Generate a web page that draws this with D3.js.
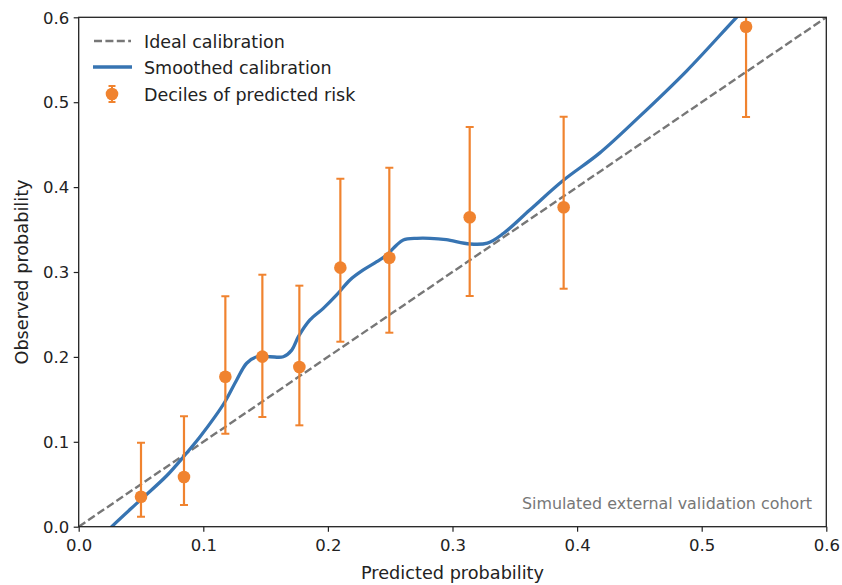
<!DOCTYPE html>
<html><head><meta charset="utf-8">
<script src="https://cdn.jsdelivr.net/npm/d3@7"></script>
<style>body{margin:0;background:#fff}svg{display:block}text{font-family:"DejaVu Sans",sans-serif}</style>
</head><body><svg id="c" width="842" height="585"></svg>
<script>
// ---- data ----
const decileX = [0.050, 0.0845, 0.1177, 0.1474, 0.1771, 0.2100, 0.2493, 0.3138, 0.3892, 0.5356];
const decileY = [0.0353, 0.0585, 0.1767, 0.2003, 0.1881, 0.3051, 0.3168, 0.3644, 0.3762, 0.5889];
const decileLo = [0.0118, 0.0256, 0.1096, 0.1292, 0.1194, 0.2179, 0.2285, 0.2717, 0.2803, 0.4826];
const decileHi = [0.0990, 0.1300, 0.2714, 0.2968, 0.2839, 0.4099, 0.4229, 0.4708, 0.4829, 0.6600];
const smoothX = [0.022,0.0265,0.0492,0.0706,0.0853,0.0974,0.1094,0.1174,0.1268,0.1348,0.1429,0.1535,0.1642,0.171,0.1763,0.1856,0.1963,0.207,0.2177,0.2284,0.2392,0.2472,0.2552,0.2605,0.2713,0.282,0.295,0.314,0.328,0.341,0.362,0.389,0.418,0.450,0.488,0.528,0.540];
const smoothY = [-0.007,0,0.031,0.060,0.0845,0.106,0.1296,0.1472,0.1728,0.1925,0.2002,0.2002,0.2002,0.208,0.2238,0.2435,0.2572,0.273,0.2906,0.3024,0.3121,0.320,0.3318,0.3377,0.3397,0.3397,0.338,0.333,0.334,0.3456,0.373,0.408,0.440,0.483,0.537,0.600,0.618];
const ideal = [0, 0.6];
const ticks = [0.0, 0.1, 0.2, 0.3, 0.4, 0.5, 0.6];
const legendLabels = ["Ideal calibration", "Smoothed calibration", "Deciles of predicted risk"];
const xLabel = "Predicted probability", yLabel = "Observed probability";
const note = "Simulated external validation cohort";

const BLUE = "#3774b2", ORANGE = "#f0832f", GRAY = "#777777";
const svg = d3.select("#c");
const L = 78.7, R = 826.3, T = 17.3, B = 526.7;
const x = d3.scaleLinear().domain([0, 0.6]).range([L, R]);
const y = d3.scaleLinear().domain([0, 0.6]).range([B, T]);

svg.append("defs").append("clipPath").attr("id", "clip")
  .append("rect").attr("x", L).attr("y", T).attr("width", R - L).attr("height", B - T);
const g = svg.append("g").attr("clip-path", "url(#clip)");

// ideal
g.append("line").attr("x1", x(ideal[0])).attr("y1", y(ideal[0])).attr("x2", x(ideal[1])).attr("y2", y(ideal[1]))
  .attr("stroke", GRAY).attr("stroke-width", 2.4).attr("stroke-dasharray", "8,3.4");

// smooth
const sm = smoothX.map((v, i) => [v, smoothY[i]]);
g.append("path").datum(sm)
  .attr("d", d3.line().x(d => x(d[0])).y(d => y(d[1])).curve(d3.curveCatmullRom.alpha(0.5)))
  .attr("fill", "none").attr("stroke", BLUE).attr("stroke-width", 3.3).attr("stroke-linejoin", "round");

// deciles
const dec = decileX.map((v, i) => ({x: v, y: decileY[i], lo: decileLo[i], hi: decileHi[i]}));
const eg = g.selectAll("g.e").data(dec).join("g");
eg.append("line").attr("x1", d => x(d.x)).attr("x2", d => x(d.x)).attr("y1", d => y(d.lo)).attr("y2", d => y(d.hi))
  .attr("stroke", ORANGE).attr("stroke-width", 2.2);
eg.append("line").attr("x1", d => x(d.x) - 4).attr("x2", d => x(d.x) + 4).attr("y1", d => y(d.lo)).attr("y2", d => y(d.lo))
  .attr("stroke", ORANGE).attr("stroke-width", 2);
eg.append("line").attr("x1", d => x(d.x) - 4).attr("x2", d => x(d.x) + 4).attr("y1", d => y(d.hi)).attr("y2", d => y(d.hi))
  .attr("stroke", ORANGE).attr("stroke-width", 2);
eg.append("circle").attr("cx", d => x(d.x)).attr("cy", d => y(d.y)).attr("r", 6.3).attr("fill", ORANGE);

// axes
const fmt = d3.format(".1f");
const xa = svg.append("g").attr("transform", `translate(0,${B})`)
  .call(d3.axisBottom(x).tickValues(ticks).tickFormat(fmt).tickSize(5).tickSizeOuter(0));
const ya = svg.append("g").attr("transform", `translate(${L},0)`)
  .call(d3.axisLeft(y).tickValues(ticks).tickFormat(fmt).tickSize(5).tickSizeOuter(0));
[xa, ya].forEach(a => {
  a.select(".domain").remove();
  a.selectAll(".tick line").attr("stroke", "#222").attr("stroke-width", 1.2);
  a.selectAll(".tick text").attr("fill", "#222").attr("font-size", 16.5).attr("font-family", "DejaVu Sans");
});
xa.selectAll(".tick text").attr("dy", null).attr("y", 24.5);
ya.selectAll(".tick text").attr("x", -9.5).attr("dy", "0.35em");

svg.append("rect").attr("x", L).attr("y", T).attr("width", R - L).attr("height", B - T)
  .attr("fill", "none").attr("stroke", "#222").attr("stroke-width", 1.3);

svg.append("text").attr("x", (L + R) / 2).attr("y", 579).attr("text-anchor", "middle")
  .attr("font-size", 17.7).attr("fill", "#222").text(xLabel);
svg.append("text").attr("transform", `translate(28,${(T + B) / 2}) rotate(-90)`).attr("text-anchor", "middle")
  .attr("font-size", 17.7).attr("fill", "#222").text(yLabel);

svg.append("text").attr("x", 812).attr("y", 509).attr("text-anchor", "end")
  .attr("font-size", 15.9).attr("fill", "#777").text(note);

// legend
const lg = svg.append("g");
const rows = [41, 67, 94];
lg.append("line").attr("x1", 94).attr("x2", 131).attr("y1", rows[0]).attr("y2", rows[0])
  .attr("stroke", GRAY).attr("stroke-width", 2.4).attr("stroke-dasharray", "8,3.4");
lg.append("line").attr("x1", 93).attr("x2", 132).attr("y1", rows[1]).attr("y2", rows[1])
  .attr("stroke", BLUE).attr("stroke-width", 3.3);
lg.append("line").attr("x1", 112).attr("x2", 112).attr("y1", rows[2] - 8).attr("y2", rows[2] + 8)
  .attr("stroke", ORANGE).attr("stroke-width", 2);
[-8, 8].forEach(o => lg.append("line").attr("x1", 108.5).attr("x2", 115.5).attr("y1", rows[2] + o).attr("y2", rows[2] + o)
  .attr("stroke", ORANGE).attr("stroke-width", 2));
lg.append("circle").attr("cx", 112).attr("cy", rows[2]).attr("r", 6.3).attr("fill", ORANGE);
legendLabels.forEach((t, i) => lg.append("text").attr("x", 144).attr("y", rows[i] + 6.5)
  .attr("font-size", 17.5).attr("fill", "#222").text(t));
</script></body></html>
